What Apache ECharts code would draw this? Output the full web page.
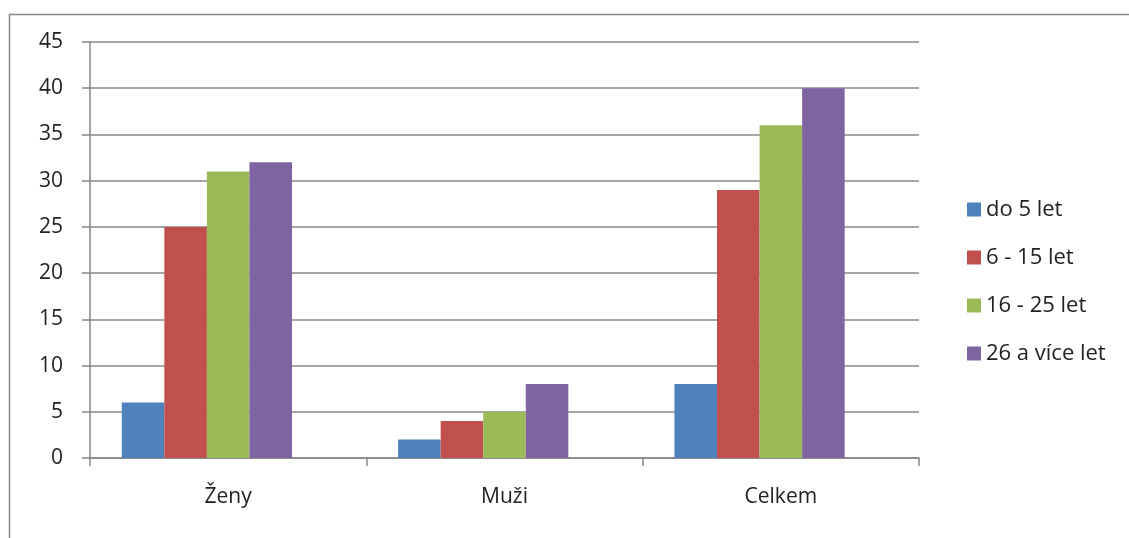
<!DOCTYPE html>
<html>
<head>
<meta charset="utf-8">
<script src="https://cdn.jsdelivr.net/npm/echarts@6/dist/echarts.min.js"></script>
<style>
  html, body { margin: 0; padding: 0; background: #fff; }
  #chart { width: 1129px; height: 538px; }
</style>
</head>
<body>
<div id="chart"></div>
<script>
const categories = ['Ženy', 'Muži', 'Celkem'];
const seriesNames = ['do 5 let', '6 - 15 let', '16 - 25 let', '26 a více let'];
const do5 = [6, 2, 8];
const od6do15 = [25, 4, 29];
const od16do25 = [31, 5, 36];
const od26 = [32, 8, 40];
// the source sheet has an empty fifth series that takes up a slot in each group
const prazdna = [null, null, null];
const colors = ['#4f81bd', '#c0504d', '#9bbb59', '#8064a2', '#4bacc6'];

const font = '"Open Sans", "Noto Sans", sans-serif';
const values = [do5, od6do15, od16do25, od26, prazdna];
const names = seriesNames.concat(['']);

const chart = echarts.init(document.getElementById('chart'));
chart.setOption({
    animation: false,
    color: colors,
    textStyle: { fontFamily: font },
    graphic: [{
        type: 'rect',
        left: 7,
        top: 12,
        shape: { width: 1300, height: 700 },
        style: { fill: 'none', stroke: '#888', lineWidth: 1.5 },
        silent: true
    }],
    grid: { left: 90, right: 210, top: 42, bottom: 80 },
    legend: {
        orient: 'vertical',
        left: 962,
        top: 193,
        icon: 'rect',
        itemWidth: 14,
        itemHeight: 14,
        itemGap: 25,
        textStyle: { fontSize: 22, color: '#222', fontFamily: font, lineHeight: 23 },
        data: seriesNames
    },
    xAxis: {
        type: 'category',
        data: categories,
        axisLine: { lineStyle: { color: '#868686', width: 1.5 } },
        axisTick: { show: true, length: 8, lineStyle: { color: '#868686', width: 1.5 } },
        axisLabel: { fontSize: 21, color: '#222', margin: 29, fontFamily: font }
    },
    yAxis: {
        type: 'value',
        min: 0,
        max: 45,
        interval: 5,
        axisLine: { show: true, lineStyle: { color: '#868686', width: 1.5 } },
        axisTick: { show: true, length: 8, lineStyle: { color: '#868686', width: 1.5 } },
        splitLine: { lineStyle: { color: '#888', width: 1.5 } },
        axisLabel: { fontSize: 21, color: '#222', margin: 27, fontFamily: font }
    },
    series: names.map((name, i) => ({
        name: name,
        type: 'bar',
        data: values[i],
        barGap: '0%',
        barCategoryGap: '23%'
    }))
});
</script>
</body>
</html>
